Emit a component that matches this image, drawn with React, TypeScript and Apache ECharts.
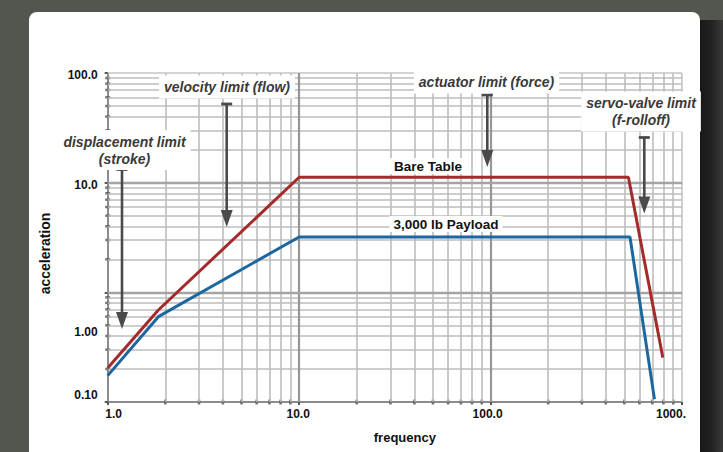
import { useEffect, useRef } from "react";
import * as echarts from "echarts";

// ---- data ----
const seriesNames = ["Bare Table", "3,000 lb Payload"];
const frequencyBare = [1, 1.84, 10, 525, 794];
const accelBare = [0.204, 0.69, 11.2, 11.2, 0.254];
const frequencyPayload = [1, 1.84, 10, 535, 718];
const accelPayload = [0.174, 0.6, 3.2, 3.2, 0.106];

const xTickValues = [1, 10, 100, 1000];
const xTickLabels = ["1.0", "10.0", "100.0", "1000."];
const yTickValues = [0.1, 1, 10, 100];
const yTickLabels = ["0.10", "1.00", "10.0", "100.0"];
const minorMultipliers = [2, 3, 4, 5, 6, 7, 8, 9];
const xDecades = [1, 10, 100];
const yDecades = [0.1, 1, 10];

const annotationTexts = [
  "displacement limit\n(stroke)",
  "velocity limit (flow)",
  "actuator limit (force)",
  "servo-valve limit\n(f-rolloff)",
];

const RED = "#a52a2b";
const BLUE = "#1d679f";
const FONT = '"Liberation Sans", Arial, Helvetica, sans-serif';

function idx(values: number[], v: number) {
  return values.findIndex((t) => Math.abs(Math.log10(t) - Math.log10(v)) < 0.01);
}

export default function App() {
  const ref = useRef<HTMLDivElement>(null);

  useEffect(() => {
    const chart = echarts.init(ref.current!, null, { renderer: "svg" });

    const minorX = xDecades.flatMap((d) => minorMultipliers.map((m) => +(d * m).toPrecision(3)));
    const minorY = yDecades.flatMap((d) => minorMultipliers.map((m) => +(d * m).toPrecision(3)));
    const majorX = [10, 100];
    const majorY = [1, 10];

    const gridLineData: any[] = [
      ...minorX.map((v) => ({ xAxis: v, lineStyle: { color: "#bdbdbd", width: 1.6, type: "solid" } })),
      ...minorY.map((v) => ({ yAxis: v, lineStyle: { color: "#bdbdbd", width: 1.6, type: "solid" } })),
      { xAxis: 1000, lineStyle: { color: "#c4c4c4", width: 1.6, type: "solid" } },
      { yAxis: 100, lineStyle: { color: "#c4c4c4", width: 1.6, type: "solid" } },
      ...majorX.map((v) => ({ xAxis: v, lineStyle: { color: "#969696", width: 2.2, type: "solid" } })),
      ...majorY.map((v) => ({ yAxis: v, lineStyle: { color: "#a4a4a4", width: 2.4, type: "solid" } })),
    ];

    const yTickDots = minorY.map((v) => [1, v]);
    const xTickDots = minorX.map((v) => [v, 0.1]);

    const arrow = (x: number, top: number, tip: number) => [
      {
        type: "line",
        z: 50,
        silent: true,
        shape: { x1: x, y1: top, x2: x, y2: tip - 14 },
        style: { stroke: "#4a4a4a", lineWidth: 2.6 },
      },
      {
        type: "line",
        z: 50,
        silent: true,
        shape: { x1: x - 5.5, y1: top, x2: x + 5.5, y2: top },
        style: { stroke: "#4a4a4a", lineWidth: 2.8 },
      },
      {
        type: "polygon",
        z: 50,
        silent: true,
        shape: {
          points: [
            [x - 6, tip - 17],
            [x + 6, tip - 17],
            [x, tip],
          ],
        },
        style: { fill: "#4a4a4a" },
      },
    ];

    const annText = (text: string, x: number, y: number) => ({
      type: "text",
      z: 60,
      silent: true,
      x,
      y,
      style: {
        text,
        fill: "#3a3a3a",
        font: `italic bold 14px ${FONT}`,
        align: "center",
        verticalAlign: "middle",
        textAlign: "center",
        textVerticalAlign: "middle",
        lineHeight: 17,
        backgroundColor: "#ffffff",
        padding: [3, 5],
      },
    });

    const seriesText = (text: string, x: number, y: number) => ({
      type: "text",
      z: 60,
      silent: true,
      x,
      y,
      style: {
        text,
        fill: "#111111",
        font: `bold 13.5px ${FONT}`,
        align: "center",
        verticalAlign: "middle",
        textAlign: "center",
        textVerticalAlign: "middle",
        backgroundColor: "#ffffff",
        padding: [1, 4],
      },
    });

    const labelBase = { fontFamily: FONT, fontWeight: "bold", fontSize: 12, color: "#111" };

    chart.setOption({
      animation: false,
      backgroundColor: "transparent",
      textStyle: { fontFamily: FONT },
      grid: {
        left: 107.7,
        right: 41,
        top: 73,
        bottom: 50,
        containLabel: false,
        outerBoundsMode: "none",
      },
      xAxis: {
        type: "log",
        logBase: 10,
        min: 1,
        max: 1000,
        name: "frequency",
        nameLocation: "middle",
        nameGap: 29,
        nameTextStyle: { ...labelBase, fontSize: 13, padding: [0, 0, 0, 20] },
        axisLine: { show: true, lineStyle: { color: "#8c8c8c", width: 2 } },
        axisTick: { show: true, length: 3, lineStyle: { color: "#555", width: 2 } },
        splitLine: { show: false },
        minorTick: { show: false },
        axisLabel: {
          margin: 6,
          ...labelBase,
          formatter: (v: number) => {
            const i = idx(xTickValues, v);
            return i < 0 ? "" : `{x${i}|${xTickLabels[i]}}`;
          },
          rich: {
            x0: { ...labelBase, padding: [0, 0, 0, 12] },
            x1: { ...labelBase, padding: [0, 2, 0, 0] },
            x2: { ...labelBase, padding: [0, 6, 0, 0] },
            x3: { ...labelBase, padding: [0, 22, 0, 0] },
          },
        },
      },
      yAxis: {
        type: "log",
        logBase: 10,
        min: 0.1,
        max: 100,
        name: "acceleration",
        nameLocation: "middle",
        nameGap: 56,
        nameTextStyle: { ...labelBase, fontSize: 14, padding: [0, 32, 0, 0] },
        axisLine: { show: true, lineStyle: { color: "#8c8c8c", width: 2 } },
        axisTick: { show: true, length: 3, lineStyle: { color: "#555", width: 2 } },
        splitLine: { show: false },
        minorTick: { show: false },
        axisLabel: {
          margin: 10,
          ...labelBase,
          formatter: (v: number) => {
            const i = idx(yTickValues, v);
            return i < 0 ? "" : `{y${i}|${yTickLabels[i]}}`;
          },
          rich: {
            y0: { ...labelBase, padding: [0, 0, 14, 0] },
            y1: { ...labelBase, padding: [80, 0, 0, 0] },
            y2: { ...labelBase, padding: [4, 0, 0, 0] },
            y3: { ...labelBase, padding: [4, 0, 0, 0] },
          },
        },
      },
      series: [
        {
          name: "grid",
          type: "line",
          z: 1,
          silent: true,
          data: [],
          markLine: {
            silent: true,
            symbol: ["none", "none"],
            label: { show: false },
            emphasis: { disabled: true },
            animation: false,
            data: gridLineData,
          },
        },
        {
          name: "yTicks",
          type: "scatter",
          z: 4,
          silent: true,
          symbol: "rect",
          symbolSize: [5, 2.5],
          itemStyle: { color: "#555" },
          data: yTickDots,
        },
        {
          name: "xTicks",
          type: "scatter",
          z: 4,
          silent: true,
          symbol: "rect",
          symbolSize: [2.5, 5],
          itemStyle: { color: "#555" },
          data: xTickDots,
        },
        {
          name: seriesNames[0],
          type: "line",
          z: 5,
          showSymbol: false,
          symbol: "none",
          lineStyle: { color: RED, width: 3 },
          itemStyle: { color: RED },
          data: frequencyBare.map((f, i) => [f, accelBare[i]]),
        },
        {
          name: seriesNames[1],
          type: "line",
          z: 5,
          showSymbol: false,
          symbol: "none",
          lineStyle: { color: BLUE, width: 3 },
          itemStyle: { color: BLUE },
          data: frequencyPayload.map((f, i) => [f, accelPayload[i]]),
        },
      ],
      graphic: [
        annText(annotationTexts[0], 124.5, 150),
        annText(annotationTexts[1], 227, 87),
        annText(annotationTexts[2], 486.5, 82),
        annText(annotationTexts[3], 641, 111.5),
        ...arrow(122, 169.5, 329),
        ...arrow(226.7, 104, 227),
        ...arrow(487.3, 95, 167),
        ...arrow(644.3, 137.5, 213.5),
        seriesText(seriesNames[0], 428, 166),
        seriesText(seriesNames[1], 446, 224),
      ],
    });

    return () => chart.dispose();
  }, []);

  return (
    <div
      style={{
        position: "fixed",
        left: 0,
        top: 0,
        width: 723,
        height: 452,
        background: "#53554f",
        overflow: "hidden",
      }}
    >
      <div
        style={{
          position: "absolute",
          left: 700,
          top: 20,
          width: 23,
          height: 440,
          background: "linear-gradient(to right, #181818, #222 50%, #3a3a3a)",
        }}
      />
      <div
        style={{
          position: "absolute",
          left: 28.5,
          top: 12,
          width: 671.5,
          height: 470,
          background: "#ffffff",
          borderRadius: 8,
        }}
      />
      <div
        ref={ref}
        style={{ position: "absolute", left: 0, top: 0, width: 723, height: 452 }}
      />
    </div>
  );
}
